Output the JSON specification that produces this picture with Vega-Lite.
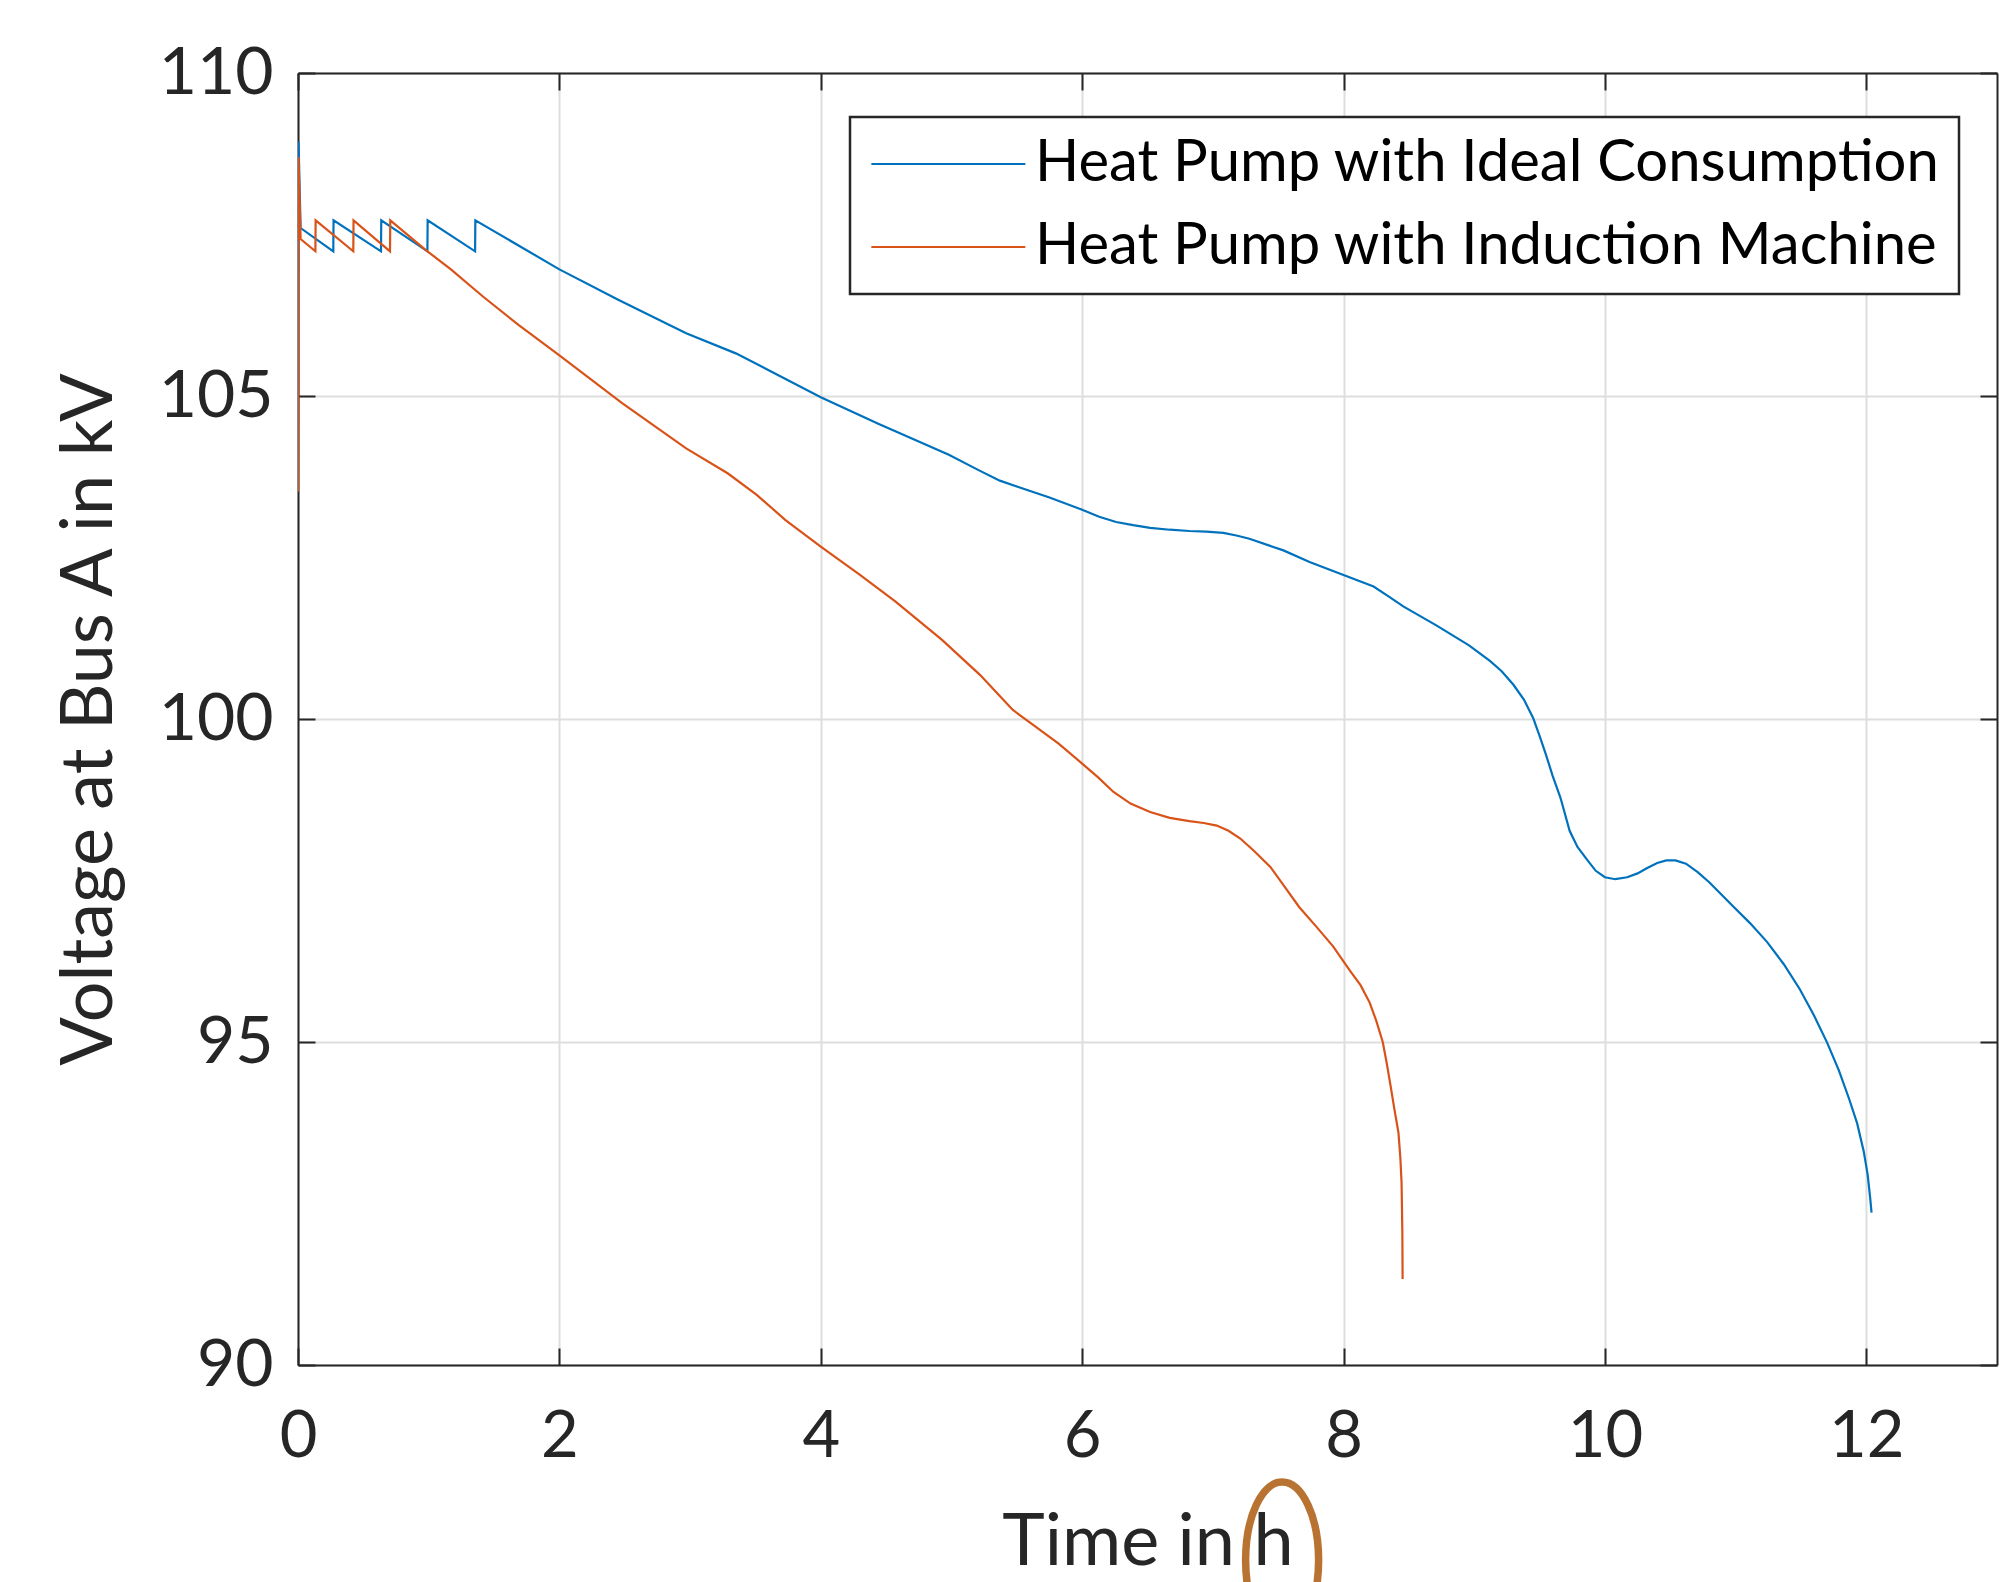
{
  "$schema": "https://vega.github.io/schema/vega-lite/v6.json",
  "width": 1699,
  "height": 1292,
  "autosize": {"type": "none"},
  "padding": {"left": 298, "top": 73, "right": 5, "bottom": 217},
  "background": "white",
  "config": {
    "font": "Lato",
    "view": {"stroke": null},
    "legend": {"strokeWidth": 2.5}
  },
  "datasets": {
    "curves": [
      {"t": 0, "v": 103.55, "s": "Heat Pump with Ideal Consumption"},
      {"t": 0.004, "v": 108.94, "s": "Heat Pump with Ideal Consumption"},
      {"t": 0.02, "v": 107.6, "s": "Heat Pump with Ideal Consumption"},
      {"t": 0.27, "v": 107.24, "s": "Heat Pump with Ideal Consumption"},
      {"t": 0.272, "v": 107.72, "s": "Heat Pump with Ideal Consumption"},
      {"t": 0.635, "v": 107.24, "s": "Heat Pump with Ideal Consumption"},
      {"t": 0.637, "v": 107.72, "s": "Heat Pump with Ideal Consumption"},
      {"t": 0.99, "v": 107.24, "s": "Heat Pump with Ideal Consumption"},
      {"t": 0.992, "v": 107.72, "s": "Heat Pump with Ideal Consumption"},
      {"t": 1.355, "v": 107.24, "s": "Heat Pump with Ideal Consumption"},
      {"t": 1.357, "v": 107.72, "s": "Heat Pump with Ideal Consumption"},
      {"t": 2.0, "v": 106.96, "s": "Heat Pump with Ideal Consumption"},
      {"t": 2.45, "v": 106.49, "s": "Heat Pump with Ideal Consumption"},
      {"t": 2.97, "v": 105.97, "s": "Heat Pump with Ideal Consumption"},
      {"t": 3.35, "v": 105.66, "s": "Heat Pump with Ideal Consumption"},
      {"t": 3.62, "v": 105.38, "s": "Heat Pump with Ideal Consumption"},
      {"t": 4.0, "v": 104.98, "s": "Heat Pump with Ideal Consumption"},
      {"t": 4.44, "v": 104.57, "s": "Heat Pump with Ideal Consumption"},
      {"t": 4.98, "v": 104.09, "s": "Heat Pump with Ideal Consumption"},
      {"t": 5.2, "v": 103.86, "s": "Heat Pump with Ideal Consumption"},
      {"t": 5.37, "v": 103.69, "s": "Heat Pump with Ideal Consumption"},
      {"t": 5.5, "v": 103.6, "s": "Heat Pump with Ideal Consumption"},
      {"t": 5.75, "v": 103.43, "s": "Heat Pump with Ideal Consumption"},
      {"t": 6.0, "v": 103.24, "s": "Heat Pump with Ideal Consumption"},
      {"t": 6.13, "v": 103.13, "s": "Heat Pump with Ideal Consumption"},
      {"t": 6.26, "v": 103.05, "s": "Heat Pump with Ideal Consumption"},
      {"t": 6.39, "v": 103.0, "s": "Heat Pump with Ideal Consumption"},
      {"t": 6.52, "v": 102.96, "s": "Heat Pump with Ideal Consumption"},
      {"t": 6.67, "v": 102.93, "s": "Heat Pump with Ideal Consumption"},
      {"t": 6.82, "v": 102.91, "s": "Heat Pump with Ideal Consumption"},
      {"t": 6.95, "v": 102.9, "s": "Heat Pump with Ideal Consumption"},
      {"t": 7.08, "v": 102.88, "s": "Heat Pump with Ideal Consumption"},
      {"t": 7.18, "v": 102.84, "s": "Heat Pump with Ideal Consumption"},
      {"t": 7.28, "v": 102.79, "s": "Heat Pump with Ideal Consumption"},
      {"t": 7.54, "v": 102.61, "s": "Heat Pump with Ideal Consumption"},
      {"t": 7.74, "v": 102.43, "s": "Heat Pump with Ideal Consumption"},
      {"t": 8.0, "v": 102.23, "s": "Heat Pump with Ideal Consumption"},
      {"t": 8.23, "v": 102.05, "s": "Heat Pump with Ideal Consumption"},
      {"t": 8.35, "v": 101.89, "s": "Heat Pump with Ideal Consumption"},
      {"t": 8.46, "v": 101.74, "s": "Heat Pump with Ideal Consumption"},
      {"t": 8.71, "v": 101.45, "s": "Heat Pump with Ideal Consumption"},
      {"t": 8.96, "v": 101.14, "s": "Heat Pump with Ideal Consumption"},
      {"t": 9.12, "v": 100.9, "s": "Heat Pump with Ideal Consumption"},
      {"t": 9.21, "v": 100.74, "s": "Heat Pump with Ideal Consumption"},
      {"t": 9.3, "v": 100.53, "s": "Heat Pump with Ideal Consumption"},
      {"t": 9.38, "v": 100.3, "s": "Heat Pump with Ideal Consumption"},
      {"t": 9.45, "v": 100.02, "s": "Heat Pump with Ideal Consumption"},
      {"t": 9.5, "v": 99.74, "s": "Heat Pump with Ideal Consumption"},
      {"t": 9.55, "v": 99.44, "s": "Heat Pump with Ideal Consumption"},
      {"t": 9.6, "v": 99.12, "s": "Heat Pump with Ideal Consumption"},
      {"t": 9.66, "v": 98.78, "s": "Heat Pump with Ideal Consumption"},
      {"t": 9.73, "v": 98.27, "s": "Heat Pump with Ideal Consumption"},
      {"t": 9.79, "v": 98.02, "s": "Heat Pump with Ideal Consumption"},
      {"t": 9.86, "v": 97.83, "s": "Heat Pump with Ideal Consumption"},
      {"t": 9.93, "v": 97.65, "s": "Heat Pump with Ideal Consumption"},
      {"t": 10.0, "v": 97.55, "s": "Heat Pump with Ideal Consumption"},
      {"t": 10.08, "v": 97.52, "s": "Heat Pump with Ideal Consumption"},
      {"t": 10.17, "v": 97.55, "s": "Heat Pump with Ideal Consumption"},
      {"t": 10.25, "v": 97.61, "s": "Heat Pump with Ideal Consumption"},
      {"t": 10.32, "v": 97.69, "s": "Heat Pump with Ideal Consumption"},
      {"t": 10.4, "v": 97.77, "s": "Heat Pump with Ideal Consumption"},
      {"t": 10.47, "v": 97.81, "s": "Heat Pump with Ideal Consumption"},
      {"t": 10.54, "v": 97.81, "s": "Heat Pump with Ideal Consumption"},
      {"t": 10.62, "v": 97.76, "s": "Heat Pump with Ideal Consumption"},
      {"t": 10.71, "v": 97.63, "s": "Heat Pump with Ideal Consumption"},
      {"t": 10.8, "v": 97.47, "s": "Heat Pump with Ideal Consumption"},
      {"t": 10.98, "v": 97.1, "s": "Heat Pump with Ideal Consumption"},
      {"t": 11.11, "v": 96.84, "s": "Heat Pump with Ideal Consumption"},
      {"t": 11.24, "v": 96.55, "s": "Heat Pump with Ideal Consumption"},
      {"t": 11.37, "v": 96.2, "s": "Heat Pump with Ideal Consumption"},
      {"t": 11.49, "v": 95.82, "s": "Heat Pump with Ideal Consumption"},
      {"t": 11.6, "v": 95.41, "s": "Heat Pump with Ideal Consumption"},
      {"t": 11.7, "v": 94.99, "s": "Heat Pump with Ideal Consumption"},
      {"t": 11.79, "v": 94.56, "s": "Heat Pump with Ideal Consumption"},
      {"t": 11.87, "v": 94.11, "s": "Heat Pump with Ideal Consumption"},
      {"t": 11.93, "v": 93.74, "s": "Heat Pump with Ideal Consumption"},
      {"t": 11.98, "v": 93.31, "s": "Heat Pump with Ideal Consumption"},
      {"t": 12.01, "v": 92.95, "s": "Heat Pump with Ideal Consumption"},
      {"t": 12.03, "v": 92.58, "s": "Heat Pump with Ideal Consumption"},
      {"t": 12.04, "v": 92.36, "s": "Heat Pump with Ideal Consumption"},
      {"t": 0, "v": 103.52, "s": "Heat Pump with Induction Machine"},
      {"t": 0.004, "v": 108.7, "s": "Heat Pump with Induction Machine"},
      {"t": 0.02, "v": 107.43, "s": "Heat Pump with Induction Machine"},
      {"t": 0.133, "v": 107.24, "s": "Heat Pump with Induction Machine"},
      {"t": 0.135, "v": 107.72, "s": "Heat Pump with Induction Machine"},
      {"t": 0.423, "v": 107.24, "s": "Heat Pump with Induction Machine"},
      {"t": 0.425, "v": 107.72, "s": "Heat Pump with Induction Machine"},
      {"t": 0.704, "v": 107.24, "s": "Heat Pump with Induction Machine"},
      {"t": 0.706, "v": 107.72, "s": "Heat Pump with Induction Machine"},
      {"t": 0.99, "v": 107.24, "s": "Heat Pump with Induction Machine"},
      {"t": 1.17, "v": 106.96, "s": "Heat Pump with Induction Machine"},
      {"t": 1.415, "v": 106.54, "s": "Heat Pump with Induction Machine"},
      {"t": 1.687, "v": 106.1, "s": "Heat Pump with Induction Machine"},
      {"t": 2.0, "v": 105.63, "s": "Heat Pump with Induction Machine"},
      {"t": 2.48, "v": 104.89, "s": "Heat Pump with Induction Machine"},
      {"t": 2.97, "v": 104.19, "s": "Heat Pump with Induction Machine"},
      {"t": 3.29, "v": 103.8, "s": "Heat Pump with Induction Machine"},
      {"t": 3.51, "v": 103.47, "s": "Heat Pump with Induction Machine"},
      {"t": 3.73, "v": 103.08, "s": "Heat Pump with Induction Machine"},
      {"t": 4.0, "v": 102.67, "s": "Heat Pump with Induction Machine"},
      {"t": 4.3, "v": 102.23, "s": "Heat Pump with Induction Machine"},
      {"t": 4.57, "v": 101.82, "s": "Heat Pump with Induction Machine"},
      {"t": 4.93, "v": 101.22, "s": "Heat Pump with Induction Machine"},
      {"t": 5.22, "v": 100.68, "s": "Heat Pump with Induction Machine"},
      {"t": 5.35, "v": 100.4, "s": "Heat Pump with Induction Machine"},
      {"t": 5.47, "v": 100.14, "s": "Heat Pump with Induction Machine"},
      {"t": 5.63, "v": 99.9, "s": "Heat Pump with Induction Machine"},
      {"t": 5.82, "v": 99.62, "s": "Heat Pump with Induction Machine"},
      {"t": 6.0, "v": 99.31, "s": "Heat Pump with Induction Machine"},
      {"t": 6.12, "v": 99.1, "s": "Heat Pump with Induction Machine"},
      {"t": 6.24, "v": 98.87, "s": "Heat Pump with Induction Machine"},
      {"t": 6.37, "v": 98.69, "s": "Heat Pump with Induction Machine"},
      {"t": 6.52, "v": 98.56, "s": "Heat Pump with Induction Machine"},
      {"t": 6.67, "v": 98.47, "s": "Heat Pump with Induction Machine"},
      {"t": 6.82, "v": 98.42, "s": "Heat Pump with Induction Machine"},
      {"t": 6.93, "v": 98.39, "s": "Heat Pump with Induction Machine"},
      {"t": 7.03, "v": 98.35, "s": "Heat Pump with Induction Machine"},
      {"t": 7.12, "v": 98.27, "s": "Heat Pump with Induction Machine"},
      {"t": 7.21, "v": 98.15, "s": "Heat Pump with Induction Machine"},
      {"t": 7.32, "v": 97.95, "s": "Heat Pump with Induction Machine"},
      {"t": 7.44, "v": 97.71, "s": "Heat Pump with Induction Machine"},
      {"t": 7.55, "v": 97.4, "s": "Heat Pump with Induction Machine"},
      {"t": 7.66, "v": 97.09, "s": "Heat Pump with Induction Machine"},
      {"t": 7.79, "v": 96.79, "s": "Heat Pump with Induction Machine"},
      {"t": 7.92, "v": 96.48, "s": "Heat Pump with Induction Machine"},
      {"t": 8.05, "v": 96.1, "s": "Heat Pump with Induction Machine"},
      {"t": 8.13, "v": 95.88, "s": "Heat Pump with Induction Machine"},
      {"t": 8.2, "v": 95.61, "s": "Heat Pump with Induction Machine"},
      {"t": 8.25, "v": 95.33, "s": "Heat Pump with Induction Machine"},
      {"t": 8.3, "v": 95.0, "s": "Heat Pump with Induction Machine"},
      {"t": 8.33, "v": 94.68, "s": "Heat Pump with Induction Machine"},
      {"t": 8.36, "v": 94.32, "s": "Heat Pump with Induction Machine"},
      {"t": 8.39, "v": 93.95, "s": "Heat Pump with Induction Machine"},
      {"t": 8.42, "v": 93.6, "s": "Heat Pump with Induction Machine"},
      {"t": 8.435, "v": 93.2, "s": "Heat Pump with Induction Machine"},
      {"t": 8.444, "v": 92.82, "s": "Heat Pump with Induction Machine"},
      {"t": 8.45, "v": 92.05, "s": "Heat Pump with Induction Machine"},
      {"t": 8.452, "v": 91.33, "s": "Heat Pump with Induction Machine"}
    ],
    "note": [{"t": 7.53, "v": 86.98}]
  },
  "layer": [
    {
      "data": {"name": "curves"},
      "mark": {"type": "line", "strokeWidth": 2.2, "clip": true, "interpolate": "linear"},
      "encoding": {
        "x": {
          "field": "t", "type": "quantitative",
          "scale": {"domain": [0, 13], "nice": false, "zero": false},
          "axis": {
            "orient": "bottom", "values": [0, 2, 4, 6, 8, 10, 12], "format": "d",
            "title": "Time in h", "tickSize": -17, "tickWidth": 2, "tickColor": "#262626",
            "domainColor": "#262626", "domainWidth": 2,
            "grid": true, "gridColor": "#DEDEDE", "gridWidth": 2,
            "labelFontSize": 65, "labelColor": "#262626", "labelPadding": 57, "labelFlush": false,
            "titleFontSize": 72, "titleFontWeight": "normal", "titleColor": "#262626", "titlePadding": 38
          }
        },
        "y": {
          "field": "v", "type": "quantitative",
          "scale": {"domain": [90, 110], "nice": false, "zero": false},
          "axis": {
            "orient": "left", "values": [90, 95, 100, 105, 110], "format": "d",
            "title": "Voltage at Bus A in kV", "tickSize": -17, "tickWidth": 2, "tickColor": "#262626",
            "domainColor": "#262626", "domainWidth": 2,
            "grid": true, "gridColor": "#DEDEDE", "gridWidth": 2,
            "labelFontSize": 66, "labelColor": "#262626", "labelPadding": 42, "labelFlush": false,
            "titleFontSize": 72, "titleFontWeight": "normal", "titleColor": "#262626", "titlePadding": 32
          }
        },
        "color": {
          "field": "s", "type": "nominal",
          "scale": {
            "domain": ["Heat Pump with Ideal Consumption", "Heat Pump with Induction Machine"],
            "range": ["#0072BD", "#D95319"]
          },
          "legend": {
            "orient": "none", "legendX": 552, "legendY": 44, "title": null,
            "symbolType": "M-1,0L5,0", "symbolSize": 2635, "symbolStrokeWidth": 2.2,
            "labelFontSize": 58, "labelColor": "black", "labelOffset": 109, "labelLimit": 3000,
            "padding": 18, "rowPadding": 25,
            "strokeColor": "#262626", "fillColor": "white"
          }
        },
        "order": {"value": null}
      }
    },
    {
      "data": {"name": "note"},
      "mark": {
        "type": "point",
        "shape": "M-0.468,0A0.468,1,0,1,1,0.468,0A0.468,1,0,1,1,-0.468,0Z",
        "size": 24336, "filled": false, "stroke": "#B87333", "strokeWidth": 7.5, "opacity": 1, "clip": false
      },
      "encoding": {
        "x": {
          "field": "t", "type": "quantitative",
          "axis": {
            "orient": "top", "values": [0, 2, 4, 6, 8, 10, 12], "labels": false, "title": null,
            "tickSize": -17, "tickWidth": 2, "tickColor": "#262626",
            "domainColor": "#262626", "domainWidth": 2, "grid": false
          }
        },
        "y": {
          "field": "v", "type": "quantitative",
          "axis": {
            "orient": "right", "values": [90, 95, 100, 105, 110], "labels": false, "title": null,
            "tickSize": -17, "tickWidth": 2, "tickColor": "#262626",
            "domainColor": "#262626", "domainWidth": 2, "grid": false
          }
        }
      }
    }
  ],
  "resolve": {"axis": {"x": "independent", "y": "independent"}}
}
